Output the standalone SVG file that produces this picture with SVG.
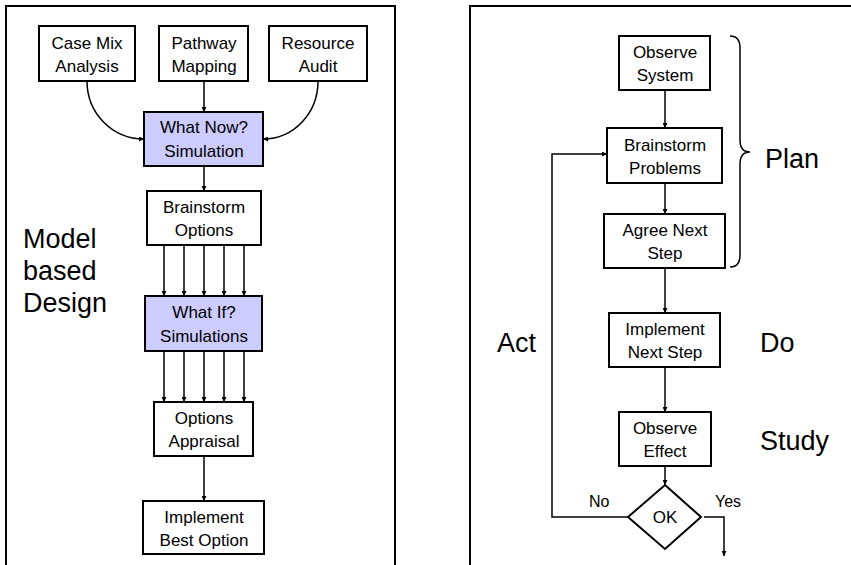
<svg xmlns="http://www.w3.org/2000/svg" width="851" height="565" viewBox="0 0 851 565">
  <defs>
    <marker id="arrow" viewBox="0 0 8 8" refX="8" refY="4" markerWidth="5" markerHeight="5" orient="auto" markerUnits="userSpaceOnUse">
      <path d="M0,0 L8,4 L0,8 z" fill="#000"/>
    </marker>
    <style>
      .frame { fill: none; stroke: #000; stroke-width: 2; }
      .box { fill: #fff; stroke: #000; stroke-width: 2; }
      .sim { fill: #ccccff; stroke: #000; stroke-width: 2; }
      .lbl { font-family: "Liberation Sans", "DejaVu Sans", sans-serif; font-size: 17px; fill: #000; text-anchor: middle; }
      .big { font-family: "Liberation Sans", "DejaVu Sans", sans-serif; font-size: 27px; fill: #000; }
      .small { font-family: "Liberation Sans", "DejaVu Sans", sans-serif; font-size: 16px; fill: #000; }
      .edge { fill: none; stroke: #000; stroke-width: 1.5; }
      .edge.arr { marker-end: url(#arrow); }
    </style>
  </defs>

  <rect width="851" height="565" fill="#fff"/>

  <!-- panel frames (open at the bottom / right) -->
  <path class="frame" d="M6,570 L6,6 L395,6 L395,570"/>
  <path class="frame" d="M470,570 L470,6 L856,6"/>

  <!-- connectors -->
  <g id="connectors">
    <!-- left panel: model based design -->
    <path class="edge arr" d="M87,81 C87,113 112,139 144,139"/>
    <path class="edge arr" d="M204,81 L204,112"/>
    <path class="edge arr" d="M318,81 C318,113 294,139 263,139"/>
    <path class="edge arr" d="M204,166 L204,191"/>
    <path class="edge arr" d="M164,245 L164,296"/>
    <path class="edge arr" d="M184,245 L184,296"/>
    <path class="edge arr" d="M204,245 L204,296"/>
    <path class="edge arr" d="M224,245 L224,296"/>
    <path class="edge arr" d="M244,245 L244,296"/>
    <path class="edge arr" d="M164,351 L164,402"/>
    <path class="edge arr" d="M184,351 L184,402"/>
    <path class="edge arr" d="M204,351 L204,402"/>
    <path class="edge arr" d="M224,351 L224,402"/>
    <path class="edge arr" d="M244,351 L244,402"/>
    <path class="edge arr" d="M204,456 L204,501"/>

    <!-- right panel: PDSA cycle -->
    <path class="edge arr" d="M665,90 L665,128"/>
    <path class="edge arr" d="M665,183 L665,214"/>
    <path class="edge arr" d="M665,268 L665,313"/>
    <path class="edge arr" d="M665,367 L665,412"/>
    <path class="edge arr" d="M665,466 L665,485"/>
    <path class="edge arr" d="M628,517 L552,517 L552,154 L607,154"/>
    <path class="edge arr" d="M704,517 L724,517 L724,556"/>
  </g>

  <!-- left panel nodes -->
  <g id="case-mix">
    <rect class="box" x="39" y="26" width="96" height="55"/>
    <text class="lbl" x="87" y="49">Case Mix</text>
    <text class="lbl" x="87" y="72">Analysis</text>
  </g>
  <g id="pathway-mapping">
    <rect class="box" x="159" y="26" width="89" height="55"/>
    <text class="lbl" x="204" y="49">Pathway</text>
    <text class="lbl" x="204" y="72">Mapping</text>
  </g>
  <g id="resource-audit">
    <rect class="box" x="269" y="26" width="98" height="55"/>
    <text class="lbl" x="318" y="49">Resource</text>
    <text class="lbl" x="318" y="72">Audit</text>
  </g>
  <g id="what-now">
    <rect class="sim" x="144" y="112" width="119" height="54"/>
    <text class="lbl" x="204" y="133">What Now?</text>
    <text class="lbl" x="204" y="157">Simulation</text>
  </g>
  <g id="brainstorm-options">
    <rect class="box" x="147" y="191" width="114" height="54"/>
    <text class="lbl" x="204" y="213">Brainstorm</text>
    <text class="lbl" x="204" y="236">Options</text>
  </g>
  <g id="what-if">
    <rect class="sim" x="145" y="296" width="117" height="55"/>
    <text class="lbl" x="204" y="318">What If?</text>
    <text class="lbl" x="204" y="342">Simulations</text>
  </g>
  <g id="options-appraisal">
    <rect class="box" x="154" y="402" width="99" height="54"/>
    <text class="lbl" x="204" y="424">Options</text>
    <text class="lbl" x="204" y="447">Appraisal</text>
  </g>
  <g id="implement-best">
    <rect class="box" x="143" y="501" width="121" height="53"/>
    <text class="lbl" x="204" y="523">Implement</text>
    <text class="lbl" x="204" y="546">Best Option</text>
  </g>

  <g id="model-based-design">
    <text class="big" x="23" y="248">Model</text>
    <text class="big" x="23" y="280">based</text>
    <text class="big" x="23" y="312">Design</text>
  </g>

  <!-- right panel nodes -->
  <g id="observe-system">
    <rect class="box" x="619" y="36" width="91" height="54"/>
    <text class="lbl" x="665" y="58">Observe</text>
    <text class="lbl" x="665" y="81">System</text>
  </g>
  <g id="brainstorm-problems">
    <rect class="box" x="607" y="128" width="115" height="55"/>
    <text class="lbl" x="665" y="151">Brainstorm</text>
    <text class="lbl" x="665" y="174">Problems</text>
  </g>
  <g id="agree-next-step">
    <rect class="box" x="604" y="214" width="121" height="54"/>
    <text class="lbl" x="665" y="236">Agree Next</text>
    <text class="lbl" x="665" y="259">Step</text>
  </g>
  <g id="implement-next-step">
    <rect class="box" x="609" y="313" width="111" height="54"/>
    <text class="lbl" x="665" y="335">Implement</text>
    <text class="lbl" x="665" y="358">Next Step</text>
  </g>
  <g id="observe-effect">
    <rect class="box" x="619" y="412" width="92" height="54"/>
    <text class="lbl" x="665" y="434">Observe</text>
    <text class="lbl" x="665" y="457">Effect</text>
  </g>
  <g id="ok-decision">
    <polygon class="box" points="665,485 701,517 665,549 628,517"/>
    <text class="lbl" x="665" y="523">OK</text>
  </g>

  <!-- brace grouping the planning steps -->
  <path class="edge" d="M730,36 Q740,36 740,48 L740,140 Q740,152 750,152 Q740,152 740,164 L740,255 Q740,267 730,267"/>

  <g id="phase-labels">
    <text class="big" x="765" y="168">Plan</text>
    <text class="big" x="497" y="352">Act</text>
    <text class="big" x="760" y="352">Do</text>
    <text class="big" x="760" y="450">Study</text>
    <text class="small" x="589" y="507">No</text>
    <text class="small" x="715" y="507">Yes</text>
  </g>
</svg>
